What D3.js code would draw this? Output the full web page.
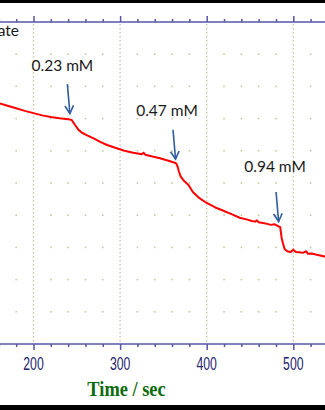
<!DOCTYPE html>
<html>
<head>
<meta charset="utf-8">
<script src="https://cdn.jsdelivr.net/npm/d3@7"></script>
<style>
  html, body { margin: 0; padding: 0; background: #fff; }
  svg { display: block; }
</style>
</head>
<body>
<div id="chart"></div>
<script>
// ---------- data ----------
const time = [161, 170, 180, 190, 200, 210, 220, 230, 240, 244, 246, 248, 252, 256, 262, 270, 277, 285, 296, 305, 315, 322, 325, 327, 329, 335, 346, 355, 363, 365, 366.5, 368, 370, 374, 379, 384, 392, 400, 410, 420, 430, 438, 446, 452, 456, 458, 460, 465, 470, 474, 478, 483, 485, 485.5, 486.5, 488, 490, 492, 494, 497, 500, 503, 507, 511, 515, 517, 521, 527, 531, 537];
const current = [7.47, 7.40, 7.32, 7.24, 7.17, 7.10, 7.05, 7.01, 6.98, 6.96, 6.88, 6.80, 6.65, 6.56, 6.48, 6.38, 6.28, 6.18, 6.08, 6.00, 5.94, 5.91, 5.89, 5.94, 5.88, 5.84, 5.77, 5.70, 5.63, 5.60, 5.50, 5.35, 5.20, 5.06, 4.94, 4.72, 4.52, 4.38, 4.24, 4.13, 4.02, 3.92, 3.87, 3.82, 3.80, 3.84, 3.78, 3.76, 3.73, 3.70, 3.72, 3.65, 3.63, 3.50, 3.30, 3.13, 2.95, 2.90, 2.87, 2.86, 2.93, 2.86, 2.85, 2.83, 2.88, 2.80, 2.81, 2.77, 2.75, 2.71];
const xTickValues = [200, 300, 400, 500];
const xTickLabels = ["200", "300", "400", "500"];
const additionTimes = [242, 364, 483];
const additionLabels = ["0.23 mM", "0.47 mM", "0.94 mM"];
const partialLabel = "ate";
const xAxisTitle = "Time / sec";

// ---------- layout ----------
const W = 325, H = 410;
const plotTop = 22, plotBottom = 344;
const x = d3.scaleLinear().domain([200, 500]).range([33.5, 293.3]);
const y = d3.scaleLinear().domain([0, 10]).range([plotBottom, plotTop]);
const axisColor = "#5656a8";
const gridColor = "#c9c9a6";

const svg = d3.select("#chart").append("svg").attr("width", W).attr("height", H);
svg.append("rect").attr("width", W).attr("height", H).attr("fill", "#fff");

// grid: vertical dotted lines at major ticks
svg.append("g").selectAll("line").data(xTickValues).join("line")
  .attr("x1", d => x(d)).attr("x2", d => x(d))
  .attr("y1", plotTop + 2).attr("y2", plotBottom - 1)
  .attr("stroke", gridColor).attr("stroke-width", 1.4)
  .attr("stroke-dasharray", "1.4,2.6");

// grid: horizontal rows of dots at minor tick positions
const minorX = d3.range(160, 541, 20).filter(v => v % 100 !== 0);
const rows = d3.range(1, 10);
const dots = [];
rows.forEach(r => minorX.forEach(m => dots.push([m, r])));
svg.append("g").selectAll("rect").data(dots).join("rect")
  .attr("x", d => x(d[0]) - 0.8).attr("y", d => y(d[1]) - 0.8)
  .attr("width", 1.6).attr("height", 1.6)
  .attr("fill", gridColor);

// axes
const bottomMajor = d3.axisBottom(x).tickValues(xTickValues).tickSize(6).tickFormat("");
const bottomMinor = d3.axisBottom(x).tickValues(minorX).tickSize(3).tickFormat("");
const topMajor = d3.axisTop(x).tickValues(xTickValues).tickSize(6).tickFormat("");
const topMinor = d3.axisTop(x).tickValues(minorX).tickSize(3).tickFormat("");

function styleAxis(g) {
  g.select(".domain").remove();
  g.selectAll(".tick line").attr("stroke", axisColor).attr("stroke-width", 1.5);
}
svg.append("g").attr("transform", `translate(0,${plotBottom})`).call(bottomMajor).call(styleAxis);
svg.append("g").attr("transform", `translate(0,${plotBottom})`).call(bottomMinor).call(styleAxis);
svg.append("g").attr("transform", `translate(0,${plotTop})`).call(topMajor).call(styleAxis);
svg.append("g").attr("transform", `translate(0,${plotTop})`).call(topMinor).call(styleAxis);

[plotTop, plotBottom].forEach(yy => {
  svg.append("line").attr("x1", 0).attr("x2", W).attr("y1", yy).attr("y2", yy)
    .attr("stroke", axisColor).attr("stroke-width", 1.6);
});

// tick labels (condensed look)
svg.append("g").selectAll("g").data(xTickValues).join("g")
  .attr("transform", d => `translate(${x(d)},369.5) scale(0.68,1)`)
  .append("text")
  .attr("text-anchor", "middle")
  .attr("font-family", "'Liberation Sans', Arial, sans-serif")
  .attr("font-size", 18)
  .attr("fill", "#23236e")
  .text((d, i) => xTickLabels[i]);

// axis title
svg.append("g").attr("transform", "translate(126.5,396) scale(0.92,1)")
  .append("text")
  .attr("text-anchor", "middle")
  .attr("font-family", "'Liberation Serif', 'Times New Roman', serif")
  .attr("font-weight", "bold")
  .attr("font-size", 20)
  .attr("fill", "#0d6a0d")
  .text(xAxisTitle);

// curve
const pts = time.map((t, i) => [t, current[i]]);
svg.append("path").datum(pts)
  .attr("fill", "none").attr("stroke", "#ff0000").attr("stroke-width", 2)
  .attr("stroke-linejoin", "round")
  .attr("d", d3.line().x(d => x(d[0])).y(d => y(d[1])));

// annotations
const interp = t => {
  const i = d3.bisectLeft(time, t);
  if (i <= 0) return current[0];
  const t0 = time[i - 1], t1 = time[i];
  return current[i - 1] + (current[i] - current[i - 1]) * (t - t0) / (t1 - t0);
};
const labelOffsets = [[-5, -13], [-6, -14], [-1, -20]];
const tipGaps = [6, 4, 5];
const arrowColor = "#2f5d9c";
additionTimes.forEach((t, i) => {
  const tipX = x(t), tipY = y(interp(t)) - tipGaps[i];
  const topX = tipX - 2.5, topY = tipY - 29.5;
  const g = svg.append("g");
  g.append("line").attr("x1", topX).attr("y1", topY).attr("x2", tipX).attr("y2", tipY)
    .attr("stroke", arrowColor).attr("stroke-width", 1.6);
  const ang = Math.atan2(tipY - topY, tipX - topX);
  const hl = 9, ha = 0.5;
  const p1 = [tipX - hl * Math.cos(ang - ha), tipY - hl * Math.sin(ang - ha)];
  const p2 = [tipX - hl * Math.cos(ang + ha), tipY - hl * Math.sin(ang + ha)];
  g.append("path")
    .attr("d", `M${p1[0]},${p1[1]}L${tipX},${tipY}L${p2[0]},${p2[1]}`)
    .attr("fill", "none").attr("stroke", arrowColor).attr("stroke-width", 1.6)
    .attr("stroke-linejoin", "miter");
  g.append("text")
    .attr("x", topX + labelOffsets[i][0]).attr("y", topY + labelOffsets[i][1])
    .attr("text-anchor", "middle")
    .attr("font-family", "Lato, 'Open Sans', sans-serif")
    .attr("font-size", 15.5)
    .attr("fill", "#1a1a1a")
    .text(additionLabels[i]);
});

// partially visible legend text at upper left
svg.append("text").attr("x", 19).attr("y", 36)
  .attr("text-anchor", "end")
  .attr("font-family", "Lato, 'Open Sans', sans-serif")
  .attr("font-size", 15.5)
  .attr("fill", "#1a1a1a")
  .text(partialLabel);

// black frame bars (top and bottom)
svg.append("rect").attr("x", 0).attr("y", 0).attr("width", W).attr("height", 3).attr("fill", "#000");
svg.append("rect").attr("x", 0).attr("y", 405).attr("width", W).attr("height", 5).attr("fill", "#000");
</script>
</body>
</html>
